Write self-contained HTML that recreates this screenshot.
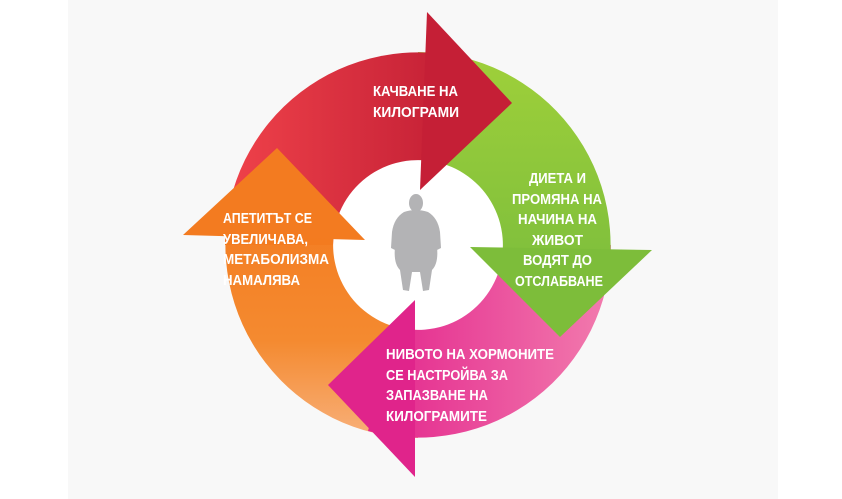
<!DOCTYPE html>
<html><head><meta charset="utf-8"><style>
html,body{margin:0;padding:0;background:#fff;}
svg{display:block;}
text{font-family:"Liberation Sans",sans-serif;font-weight:bold;font-size:14.5px;fill:#fff;}
</style></head><body>
<svg width="842" height="499" viewBox="0 0 842 499" xmlns="http://www.w3.org/2000/svg">
<defs>
<linearGradient id="gr" x1="0" y1="0" x2="1" y2="0"><stop offset="0" stop-color="#f0424a"/><stop offset="1" stop-color="#c01d34"/></linearGradient>
<linearGradient id="gg" x1="0" y1="0" x2="0" y2="1"><stop offset="0" stop-color="#9fd03a"/><stop offset="1" stop-color="#7bbd3c"/></linearGradient>
<linearGradient id="gp" x1="0" y1="0" x2="1" y2="0"><stop offset="0" stop-color="#e3248c"/><stop offset="1" stop-color="#f27cae"/></linearGradient>
<linearGradient id="go" x1="0" y1="0" x2="0" y2="1"><stop offset="0" stop-color="#f37b1f"/><stop offset="0.6" stop-color="#f48a30"/><stop offset="1" stop-color="#f8b07a"/></linearGradient>
</defs>
<rect x="68" y="0" width="710" height="499" fill="#f8f8f8"/>
<circle cx="418" cy="245" r="90" fill="#fff"/>
<path d="M418,438 A193,193 0 0 1 232,195 L336,223 A85,85 0 0 0 418,330 Z" fill="url(#go)"/>
<path d="M611,245 A193,193 0 0 1 368,431 L396,327 A85,85 0 0 0 503,245 Z" fill="url(#gp)"/>
<path d="M418,52 A193,193 0 0 1 604,295 L500,267 A85,85 0 0 0 418,160 Z" fill="url(#gg)"/>
<path d="M225,245 A193,193 0 0 1 468,59 L440,163 A85,85 0 0 0 333,245 Z" fill="url(#gr)"/>
<path d="M225,245 A193,193 0 0 1 232,195 L336,223 A85,85 0 0 0 333,245 Z" fill="#f37b1f"/>
<polygon points="427,12 512,103 420,190" fill="#c51f36"/>
<polygon points="470,247 652,250 560,337" fill="#7dbd3a"/>
<polygon points="415,300 328,385 415,477" fill="#e0248b"/>
<polygon points="277,148 183,235 365,240" fill="#f37b20"/>
<g fill="#b3b3b5">
<ellipse cx="416" cy="203" rx="7" ry="9"/>
<path d="M404,212 Q416,208 428,212 Q438,218 440,232 L441,248 L437,250 L436,240 Q440,262 432,270 L429,290 L423,291 L420,272 L412,272 L409,291 L403,290 L400,270 Q392,262 396,240 L395,250 L391,248 L392,232 Q394,218 404,212 Z"/>
</g>
<text x="373" y="96" textLength="85" lengthAdjust="spacingAndGlyphs">КАЧВАНЕ НА</text>
<text x="373" y="117" textLength="86" lengthAdjust="spacingAndGlyphs">КИЛОГРАМИ</text>
<text x="529" y="183" textLength="57" lengthAdjust="spacingAndGlyphs">ДИЕТА И</text>
<text x="512" y="204" textLength="90" lengthAdjust="spacingAndGlyphs">ПРОМЯНА НА</text>
<text x="518" y="224" textLength="79" lengthAdjust="spacingAndGlyphs">НАЧИНА НА</text>
<text x="532" y="245" textLength="51" lengthAdjust="spacingAndGlyphs">ЖИВОТ</text>
<text x="523" y="265" textLength="69" lengthAdjust="spacingAndGlyphs">ВОДЯТ ДО</text>
<text x="515" y="286" textLength="88" lengthAdjust="spacingAndGlyphs">ОТСЛАБВАНЕ</text>
<text x="223" y="223" textLength="89" lengthAdjust="spacingAndGlyphs">АПЕТИТЪТ СЕ</text>
<text x="223" y="244" textLength="85" lengthAdjust="spacingAndGlyphs">УВЕЛИЧАВА,</text>
<text x="223" y="264" textLength="106" lengthAdjust="spacingAndGlyphs">МЕТАБОЛИЗМА</text>
<text x="223" y="285" textLength="77" lengthAdjust="spacingAndGlyphs">НАМАЛЯВА</text>
<text x="386" y="359" textLength="168" lengthAdjust="spacingAndGlyphs">НИВОТО НА ХОРМОНИТЕ</text>
<text x="386" y="380" textLength="122" lengthAdjust="spacingAndGlyphs">СЕ НАСТРОЙВА ЗА</text>
<text x="386" y="400" textLength="102" lengthAdjust="spacingAndGlyphs">ЗАПАЗВАНЕ НА</text>
<text x="386" y="421" textLength="101" lengthAdjust="spacingAndGlyphs">КИЛОГРАМИТЕ</text>
</svg>
</body></html>
